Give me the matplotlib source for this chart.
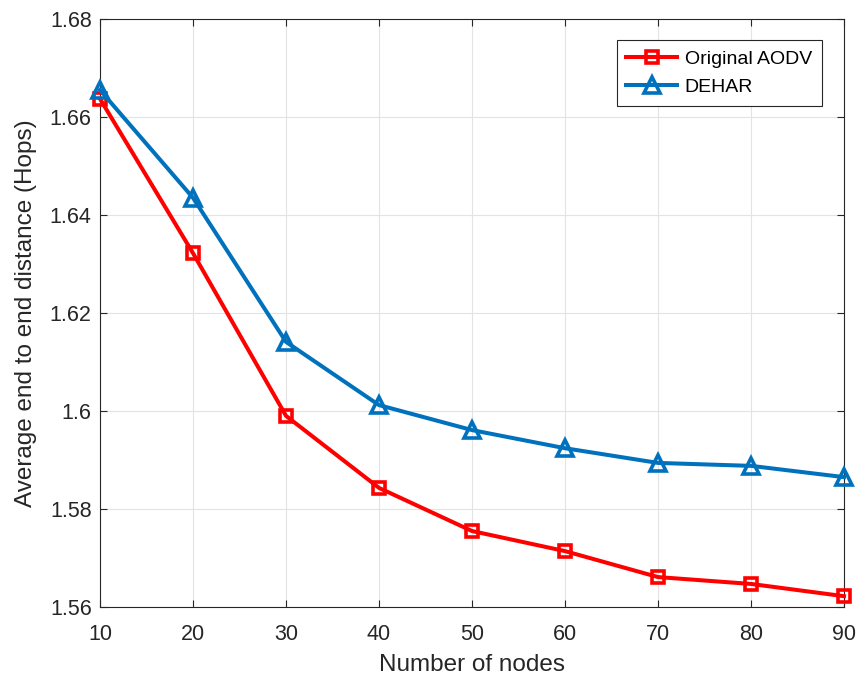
import numpy as np
import matplotlib.pyplot as plt

plt.rcParams['font.family'] = ['Liberation Sans', 'DejaVu Sans']

# data
nodes = [10, 20, 30, 40, 50, 60, 70, 80, 90]
aodv = [1.6637, 1.6322, 1.5990, 1.5843, 1.5755, 1.5714, 1.5661, 1.5647, 1.5622]
dehar = [1.6655, 1.6435, 1.6141, 1.6012, 1.5961, 1.5924, 1.5894, 1.5888, 1.5865]
yticks = [1.56, 1.58, 1.6, 1.62, 1.64, 1.66, 1.68]
yticklabels = ['1.56', '1.58', '1.6', '1.62', '1.64', '1.66', '1.68']

fig = plt.figure(figsize=(8.58, 6.8), dpi=100)
ax = fig.add_axes([0.1166, 0.1074, 0.8671, 0.8646])

ax.plot(nodes, aodv, color='#ff0000', lw=2.9, marker='s', ms=8.5, mfc='none',
        mew=2.6, label='Original AODV', clip_on=False, zorder=3)
ax.plot(nodes, dehar, color='#0072bd', lw=2.9, marker='^', ms=12, mfc='none',
        mew=2.6, label='DEHAR', clip_on=False, zorder=3)

ax.set_xlim(10, 90)
ax.set_ylim(1.56, 1.68)
ax.set_xticks(nodes)
ax.set_yticks(yticks)
ax.set_yticklabels(yticklabels)
ax.grid(True, color='#e3e3e3', lw=0.8)
ax.set_axisbelow(True)

for s in ax.spines.values():
    s.set_color('#262626')
    s.set_linewidth(0.8)
ax.tick_params(direction='in', length=5, width=0.8, colors='#262626',
               labelsize=15.5, top=True, right=True)
ax.tick_params(axis='x', pad=12)
ax.tick_params(axis='y', pad=6)
for lbl in ax.get_xticklabels() + ax.get_yticklabels():
    lbl.set_color('#262626')

ax.set_xlabel('Number of nodes', fontsize=17.5, color='#262626', labelpad=7)
ax.set_ylabel('Average end to end distance (Hops)', fontsize=17.5, color='#262626', labelpad=9)

leg = ax.legend(loc='upper right', bbox_to_anchor=(0.970, 0.964), borderaxespad=0,
                fontsize=14, fancybox=False, framealpha=1, edgecolor='#262626',
                handlelength=2.6, borderpad=0.5, labelspacing=0.55, handletextpad=0.4)
leg.get_frame().set_linewidth(0.8)

fig.savefig('out.png', dpi=100)
